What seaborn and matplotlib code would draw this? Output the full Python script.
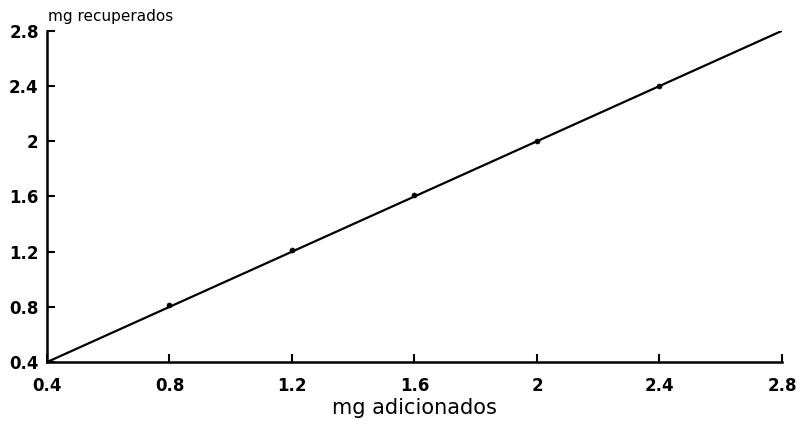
import matplotlib
matplotlib.use("Agg")
import matplotlib.pyplot as plt
import seaborn as sns
import pandas as pd

# Data
line_x = [0.4, 2.8]
line_y = [0.4, 2.8]
added = [0.8, 1.2, 1.6, 2.0, 2.4]
recovered = [0.81, 1.21, 1.61, 2.0, 2.4]
ticks = [0.4, 0.8, 1.2, 1.6, 2.0, 2.4, 2.8]
tick_labels = ["0.4", "0.8", "1.2", "1.6", "2", "2.4", "2.8"]

sns.set_theme(style="white")
plt.rcParams['font.family'] = ['DejaVu Sans']

fig = plt.figure(figsize=(7.99, 4.28), dpi=100)
ax = fig.add_axes([0.0588, 0.154, 0.9199, 0.774])

line_df = pd.DataFrame({"x": line_x, "y": line_y})
pts_df = pd.DataFrame({"x": added, "y": recovered})
sns.lineplot(data=line_df, x="x", y="y", ax=ax, color="black", linewidth=1.6)
sns.scatterplot(data=pts_df, x="x", y="y", ax=ax, color="black", s=14, edgecolor="black", zorder=3)

ax.set_xlim(0.4, 2.8)
ax.set_ylim(0.4, 2.8)
ax.set_xticks(ticks)
ax.set_xticklabels(tick_labels)
ax.set_yticks(ticks)
ax.set_yticklabels(tick_labels)
ax.tick_params(axis="both", direction="in", length=6, width=1.5, colors="black",
               labelsize=12, bottom=True, left=True)
for lab in ax.get_xticklabels() + ax.get_yticklabels():
    lab.set_fontweight("bold")
ax.tick_params(axis="x", pad=11)
ax.tick_params(axis="y", pad=6)

for s in ["top", "right"]:
    ax.spines[s].set_visible(False)
for s in ["left", "bottom"]:
    ax.spines[s].set_color("black")
    ax.spines[s].set_linewidth(1.8)

ax.set_xlabel("mg adicionados", fontsize=15, labelpad=2, color="black")
ax.set_ylabel("")
fig.text(0.06, 0.945, "mg recuperados", fontsize=11, ha="left", va="bottom", color="black")

fig.savefig("out.png", dpi=100, facecolor="white")
